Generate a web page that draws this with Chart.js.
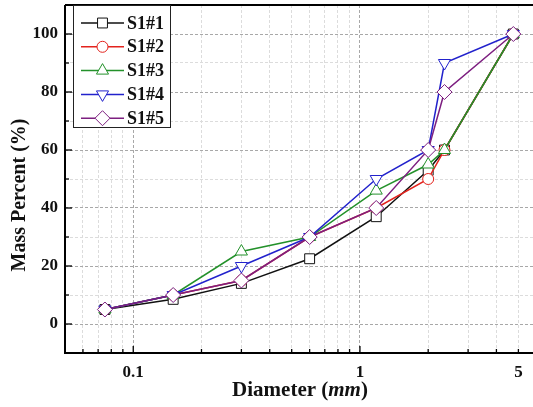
<!DOCTYPE html>
<html>
<head>
<meta charset="utf-8">
<script src="https://cdn.jsdelivr.net/npm/chart.js@4/dist/chart.umd.min.js"></script>
<style>
  html, body { margin: 0; padding: 0; background: #fff; }
  #wrap { width: 533px; height: 407px; }
</style>
</head>
<body>
<div id="wrap"><canvas id="chart" width="533" height="407"></canvas></div>
<script>
// sieve sizes (mm)
const diameters = [0.075, 0.15, 0.3, 0.6, 1.18, 2.0, 2.36, 4.75];

const s1_1 = [5, 8.5, 14, 22.5, 37, 53, 60, 100];
const s1_2 = [5, 10, 15, 30, 40, 50, 60, 100];
const s1_3 = [5, 10, 25, 30, 46, 55, 60, 100];
const s1_4 = [5, 10, 20, 30, 50, 60, 90, 100];
const s1_5 = [5, 10, 15, 30, 40, 60, 80, 100];

const seriesNames = ['S1#1', 'S1#2', 'S1#3', 'S1#4', 'S1#5'];
const xTicks = [0.06, 0.07, 0.08, 0.09, 0.1, 0.2, 0.3, 0.4, 0.5, 0.6, 0.7, 0.8, 0.9, 1, 2, 3, 4, 5];
const xLabels = [0.1, 1, 5];
const yLabels = [0, 20, 40, 60, 80, 100];

const colors = ['#111111', '#e3231d', '#23912a', '#2222cc', '#7d1f80'];
const styles = [
  { pointStyle: 'rect', radius: 7, rotation: 0 },
  { pointStyle: 'circle', radius: 5.5, rotation: 0 },
  { pointStyle: 'triangle', radius: 7, rotation: 0 },
  { pointStyle: 'triangle', radius: 7, rotation: 180 },
  { pointStyle: 'rectRot', radius: 7.5, rotation: 0 }
];

const FONT = '"Liberation Serif", "Times New Roman", serif';
const allSeries = [s1_1, s1_2, s1_3, s1_4, s1_5];

const datasets = allSeries.map((vals, i) => ({
  label: seriesNames[i],
  data: vals.map((v, k) => ({ x: diameters[k], y: v })),
  borderColor: colors[i],
  backgroundColor: '#fff',
  borderWidth: 1.5,
  pointStyle: styles[i].pointStyle,
  pointRadius: styles[i].radius,
  pointRotation: styles[i].rotation,
  pointBorderColor: colors[i],
  pointBackgroundColor: '#fff',
  pointBorderWidth: 1,
  order: 5 - i,
  tension: 0
}));

// frame, inward ticks, axis titles, legend box
const decorations = {
  id: 'decorations',
  afterDraw(c) {
    const ctx = c.ctx;
    const a = c.chartArea;
    const xs = c.scales.x;
    const ys = c.scales.y;
    ctx.save();

    ctx.strokeStyle = '#000';
    ctx.lineWidth = 1.3;
    xs.ticks.forEach((t) => {
      const px = xs.getPixelForValue(t.value);
      const len = t.value === 0.1 || t.value === 1 ? 7 : 4;
      ctx.beginPath();
      ctx.moveTo(px, a.bottom);
      ctx.lineTo(px, a.bottom - len);
      ctx.stroke();
    });
    ys.ticks.forEach((t) => {
      if (t.value <= ys.min || t.value >= ys.max) return;
      const py = ys.getPixelForValue(t.value);
      const len = t.value % 20 === 0 ? 7 : 4;
      ctx.beginPath();
      ctx.moveTo(a.left, py);
      ctx.lineTo(a.left + len, py);
      ctx.stroke();
    });

    ctx.lineWidth = 2;
    ctx.beginPath();
    ctx.moveTo(a.left, a.top);
    ctx.lineTo(a.right, a.top);
    ctx.moveTo(a.left, a.top);
    ctx.lineTo(a.left, a.bottom);
    ctx.lineTo(a.right, a.bottom);
    ctx.stroke();

    // legend
    const lx = 73, ly = 5, lw = 97, lh = 122;
    ctx.fillStyle = '#fff';
    ctx.fillRect(lx, ly, lw, lh);
    ctx.lineWidth = 1;
    ctx.strokeStyle = '#222';
    ctx.strokeRect(lx + 0.5, ly + 0.5, lw, lh);
    seriesNames.forEach((name, i) => {
      const y = 23 + i * 23.8;
      ctx.strokeStyle = colors[i];
      ctx.lineWidth = 1.5;
      ctx.beginPath();
      ctx.moveTo(81, y);
      ctx.lineTo(124, y);
      ctx.stroke();
      ctx.fillStyle = '#fff';
      ctx.lineWidth = 1;
      Chart.helpers.drawPoint(ctx, {
        pointStyle: styles[i].pointStyle,
        radius: styles[i].radius,
        rotation: styles[i].rotation,
        borderWidth: 1
      }, 102.5, y);
      ctx.fillStyle = '#111';
      ctx.font = 'bold 18px ' + FONT;
      ctx.textAlign = 'left';
      ctx.textBaseline = 'middle';
      ctx.fillText(name, 127, y + 1);
    });

    // x title with italic unit
    ctx.fillStyle = '#111';
    ctx.textBaseline = 'middle';
    ctx.textAlign = 'left';
    const p1 = 'Diameter (', p2 = 'mm', p3 = ')';
    const f1 = 'bold 21px ' + FONT, f2 = 'italic bold 21px ' + FONT;
    ctx.font = f1;
    const w1 = ctx.measureText(p1).width, w3 = ctx.measureText(p3).width;
    ctx.font = f2;
    const w2 = ctx.measureText(p2).width;
    let tx = 300 - (w1 + w2 + w3) / 2;
    const ty = 391;
    ctx.font = f1; ctx.fillText(p1, tx, ty); tx += w1;
    ctx.font = f2; ctx.fillText(p2, tx, ty); tx += w2;
    ctx.font = f1; ctx.fillText(p3, tx, ty);

    // y title
    ctx.translate(20, 195);
    ctx.rotate(-Math.PI / 2);
    ctx.textAlign = 'center';
    ctx.font = 'bold 20px ' + FONT;
    ctx.fillText('Mass Percent (%)', 0, 0);

    ctx.restore();
  }
};

new Chart(document.getElementById('chart'), {
  type: 'line',
  data: { datasets },
  options: {
    responsive: false,
    animation: false,
    layout: { autoPadding: false, padding: { left: 0, top: 5, right: 0, bottom: 0 } },
    plugins: {
      legend: { display: false },
      tooltip: { enabled: false }
    },
    scales: {
      x: {
        type: 'logarithmic',
        min: 0.05,
        max: 5.8,
        afterBuildTicks(scale) {
          scale.ticks = xTicks.map((v) => ({ value: v }));
        },
        afterFit(scale) {
          scale.height = 54;
          scale.paddingLeft = 0;
          scale.paddingRight = 0;
        },
        grid: {
          drawTicks: false,
          color: (ctx) => (ctx.tick && (ctx.tick.value === 0.1 || ctx.tick.value === 1) ? '#a8a8a8' : '#dcdcdc'),
          lineWidth: 1
        },
        border: { display: false, dash: [3, 2] },
        ticks: {
          autoSkip: false,
          maxRotation: 0,
          padding: 9,
          color: '#111',
          font: { family: FONT, size: 17, weight: 'bold' },
          callback: (v) => (xLabels.includes(v) ? String(v) : '')
        }
      },
      y: {
        min: -10,
        max: 110,
        afterFit(scale) {
          scale.width = 65;
          scale.paddingTop = 0;
          scale.paddingBottom = 0;
        },
        grid: {
          drawTicks: false,
          color: (ctx) => {
            const v = ctx.tick ? ctx.tick.value : 0;
            if (v <= -10 || v >= 110) return 'rgba(0,0,0,0)';
            return yLabels.includes(v) ? '#a8a8a8' : '#dcdcdc';
          },
          lineWidth: 1
        },
        border: { display: false, dash: [3, 2] },
        ticks: {
          stepSize: 10,
          padding: 7,
          color: '#111',
          font: { family: FONT, size: 17, weight: 'bold' },
          callback: (v) => (yLabels.includes(v) ? String(v) : '')
        }
      }
    }
  },
  plugins: [decorations]
});
</script>
</body>
</html>
